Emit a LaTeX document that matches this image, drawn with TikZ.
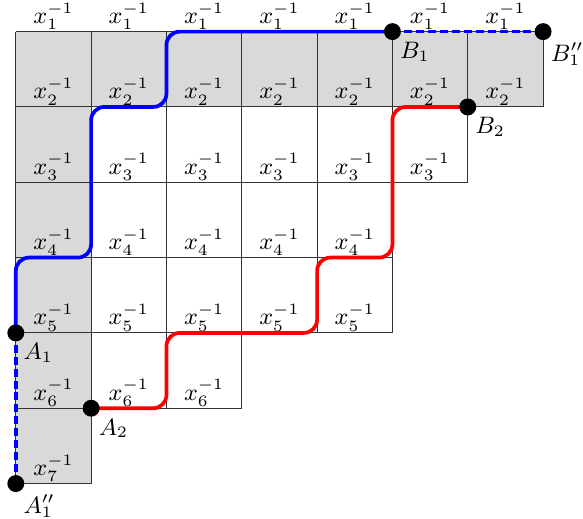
\documentclass[tikz,border=0pt]{standalone}
\usepackage{tikz}
\definecolor{cellgray}{HTML}{D9D9D9}

\begin{document}
\begin{tikzpicture}[
  walk/.style={line width=1.4pt,rounded corners=5pt},
  tail/.style={line width=1.4pt,dash pattern=on 3pt off 1.5pt},
  dot/.style={circle,fill=black,inner sep=0pt,minimum size=6.4pt},
  lbl/.style={anchor=south,inner sep=0.5pt,font=\small},
  tag/.style={anchor=north west,inner sep=1pt,font=\small}
]
\useasboundingbox (-0.21,-0.46) rectangle (7.53,6.42);
% Shaded cells
\fill[cellgray] (0,5) rectangle (7,6);
\fill[cellgray] (0,0) rectangle (1,5);
% Grid, row by row, with the labels along the lower edges
\foreach \x in {1,...,7} {
  \node[lbl] (t-\x) at (\x-0.5,6) {$x_1^{-1}$};
}
\foreach \r/\w in {1/7,2/6,3/5,4/5,5/3,6/1} {
  \pgfmathtruncatemacro\lo{6-\r}
  \pgfmathtruncatemacro\hi{7-\r}
  \pgfmathtruncatemacro\i{\r+1}
  \draw[black!80,line width=0.4pt] (0,\lo) grid (\w,\hi);
  \foreach \x in {1,...,\w} {
    \node[lbl] (l-\r-\x) at (\x-0.5,\lo) {$x_{\i}^{-1}$};
  }
}
% End points
\coordinate (A1) at (0,2);
\coordinate (A2) at (1,1);
\coordinate (A1pp) at (0,0);
\coordinate (B1) at (5,6);
\coordinate (B2) at (6,5);
\coordinate (B1pp) at (7,6);
% Paths
\draw[blue,tail] (A1) -- (A1pp);
\draw[blue,tail] (B1) -- (B1pp);
\draw[blue,walk] (A1) |- (1,3) |- (2,5) |- (B1);
\draw[red,walk] (A2) -| (2,2) -| (4,3) -| (5,5) -- (B2);
% Dots and names
\foreach \p/\t in {A1/A_1,A2/A_2,A1pp/A_1'',B1/B_1,B2/B_2,B1pp/B_1''} {
  \node[dot] (d-\p) at (\p) {};
  \node[tag] (n-\p) at ([shift={(0.06,-0.1)}]\p) {$\t$};
}
\end{tikzpicture}
\end{document}
